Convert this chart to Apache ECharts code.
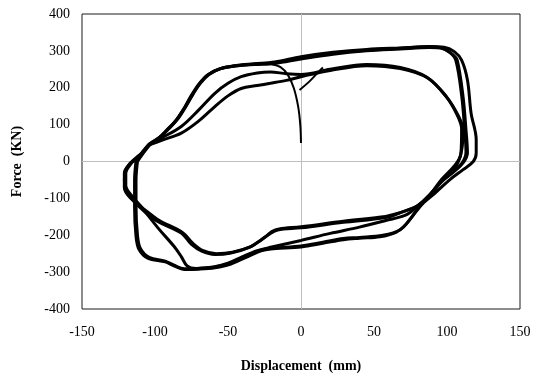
<!DOCTYPE html>
<html>
<head>
<meta charset="utf-8">
<script src="https://cdn.jsdelivr.net/npm/echarts@6/dist/echarts.min.js"></script>
<style>
  html, body { margin: 0; padding: 0; background: #fff; }
  #chart { width: 538px; height: 378px; }
</style>
</head>
<body>
<div id="chart"></div>
<script>
// axis ticks
var xTicks = [-150, -100, -50, 0, 50, 100, 150];
var yTicks = [-400, -300, -200, -100, 0, 100, 200, 300, 400];

// initial loading branch
var initial = [[0, 50], [-0.5, 100], [-2, 150], [-5, 200], [-9, 235], [-14, 256], [-20, 264]];
// short reloading piece near zero
var shortPiece = [[-1, 194], [6, 218], [12, 243], [15, 255]];

// outer cycles (upper top band)
var loopU1 = [[-113, 0], [-109, 22], [-104, 45], [-98, 62], [-92, 85], [-86, 110], [-80, 145], [-75, 180], [-70, 210], [-64, 235], [-56, 251], [-46, 259], [-33, 264], [-18, 268], [0, 281], [22, 294], [45, 302], [68, 307], [88, 312], [98, 310], [105, 298], [110, 275], [114, 221], [116.5, 131], [120, 59], [120, 23], [118, 0], [111, -22], [102, -49], [92, -85], [84, -112], [78, -140], [72, -170], [65, -192], [54, -204], [40, -208], [29, -212], [15, -222], [0, -232], [-25, -240], [-36, -257], [-48, -278], [-59, -288], [-70, -292], [-80, -293], [-87, -283], [-93, -272], [-105, -262], [-111, -238], [-113, -203], [-114, -122], [-114, -50], [-113, 0]];
var loopU2 = [[-114, 2], [-109, 24], [-104, 47], [-97, 65], [-91, 88], [-85, 114], [-79, 150], [-74, 184], [-69, 213], [-63, 237], [-55, 252], [-45, 259], [-32, 263], [-18, 266], [0, 278], [22, 291], [45, 300], [68, 305], [88, 309], [97, 306], [104, 290], [107, 275], [111, 176], [113, 86], [114, 23], [111, -4], [104, -30], [97, -52], [88, -90], [80, -120], [72, -145], [58, -160], [40, -178], [20, -195], [0, -214], [-20, -232], [-30, -242], [-40, -258], [-50, -276], [-60, -286], [-72, -290], [-78, -283], [-82, -258], [-87, -230], [-98, -180], [-110, -120], [-119, -77], [-121, -50], [-120, -25], [-117, -5], [-114, 2]];
var loopU3 = [[-112, 0], [-108, 23], [-103, 47], [-97, 64], [-91, 87], [-85, 112], [-79, 148], [-74, 182], [-69, 212], [-63, 236], [-55, 252], [-45, 260], [-32, 265], [-18, 270], [0, 284], [22, 296], [45, 304], [68, 308], [88, 311], [96, 308], [102, 295], [106, 275], [110, 180], [112, 90], [113, 25], [110, -6], [103, -32], [96, -56], [88, -92], [81, -122], [75, -155], [68, -185], [56, -200], [40, -206], [29, -209], [15, -219], [0, -229], [-25, -238], [-36, -255], [-48, -276], [-59, -286], [-70, -290], [-80, -291], [-87, -281], [-93, -270], [-104, -260], [-110, -236], [-112, -200], [-113, -120], [-113, -50], [-112, 0]];

// inner cycles (lower top band)
var loopL1 = [[-104, 45], [-95, 58], [-82, 77], [-70, 110], [-59, 149], [-50, 178], [-41, 198], [-30, 206], [-21, 212], [-10, 220], [0, 230], [20, 247], [45, 260], [68, 252], [87, 226], [100, 174], [108, 122], [111, 86], [110, 30], [106, -14], [97, -49], [88, -95], [80, -120], [72, -133], [64, -143], [58, -149], [29, -162], [0, -177], [-15, -183], [-20, -190], [-24, -203], [-28, -214], [-35, -232], [-48, -248], [-59, -252], [-68, -243], [-75, -225], [-82, -194], [-100, -158], [-117, -98], [-121, -71], [-121, -31], [-117, -5], [-113, 10], [-109, 23], [-104, 45]];
var loopL2 = [[-104, 47], [-95, 65], [-82, 95], [-70, 140], [-59, 185], [-50, 212], [-41, 230], [-30, 240], [-21, 243], [-10, 238], [0, 236], [20, 250], [45, 263], [68, 255], [86, 229], [99, 178], [107, 126], [110, 88], [109.5, 20], [105, -12], [96, -50], [87, -97], [79, -122], [70, -136], [58, -152], [29, -165], [0, -180], [-16, -186], [-22, -198], [-27, -212], [-34, -230], [-47, -246], [-58, -250], [-67, -242], [-74, -222], [-81, -193], [-99, -155], [-117, -96], [-120, -72], [-120, -32], [-116, -4], [-112, 12], [-108, 26], [-104, 47]];

var curves = [initial, shortPiece, loopU1, loopU2, loopU3, loopL1, loopL2];

var chart = echarts.init(document.getElementById('chart'));

var series = [{
    type: 'line',
    data: [],
    silent: true,
    markLine: {
        z: 1,
        silent: true,
        symbol: ['none', 'none'],
        label: { show: false },
        lineStyle: { color: '#bfbfbf', width: 1, type: 'solid' },
        data: [{ xAxis: 0 }, { yAxis: 0 }]
    }
}];
for (var i = 0; i < curves.length; i++) {
    series.push({
        type: 'line',
        data: curves[i],
        smooth: 0.35,
        showSymbol: false,
        symbol: 'none',
        z: 3,
        lineStyle: { color: '#000', width: i < 2 ? 2 : 3 }
    });
}

var labelFont = { color: '#000', fontFamily: 'Liberation Serif', fontSize: 14 };

var option = {
    animation: false,
    grid: {
        left: 82, top: 14, width: 438, height: 296,
        show: true, borderColor: '#1a1a1a', borderWidth: 1
    },
    xAxis: {
        type: 'value',
        min: xTicks[0], max: xTicks[xTicks.length - 1], interval: 50,
        name: 'Displacement  (mm)',
        nameLocation: 'middle',
        nameGap: 50,
        nameTextStyle: { color: '#000', fontFamily: 'Liberation Serif', fontSize: 14, fontWeight: 'bold' },
        axisLine: { show: false },
        axisTick: { show: false },
        splitLine: { show: false },
        axisLabel: Object.assign({ margin: 16 }, labelFont)
    },
    yAxis: {
        type: 'value',
        min: yTicks[0], max: yTicks[yTicks.length - 1], interval: 100,
        name: 'Force  (KN)',
        nameLocation: 'middle',
        nameGap: 58,
        nameRotate: 90,
        nameTextStyle: { color: '#000', fontFamily: 'Liberation Serif', fontSize: 14, fontWeight: 'bold' },
        axisLine: { show: false },
        axisTick: { show: false },
        splitLine: { show: false },
        axisLabel: Object.assign({ margin: 12 }, labelFont)
    },
    series: series
};

chart.setOption(option);
</script>
</body>
</html>
